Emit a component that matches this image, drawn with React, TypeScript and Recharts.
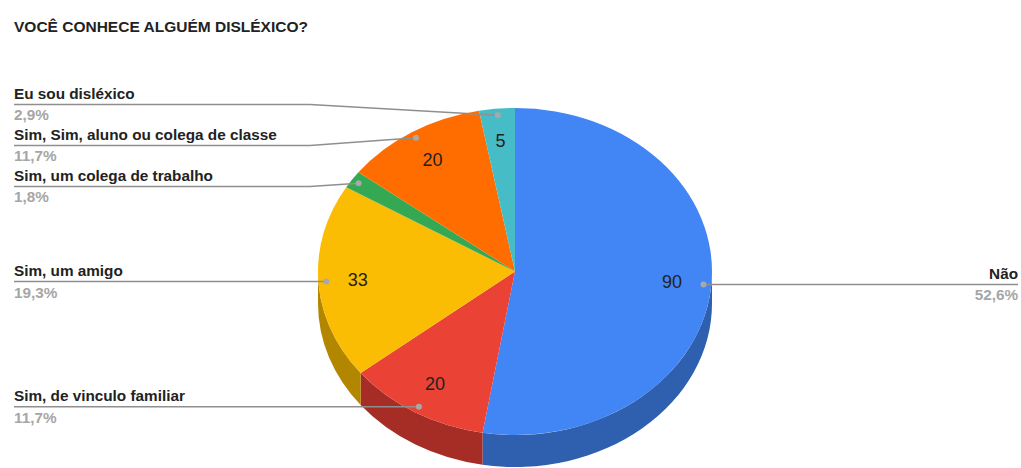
import { Cell, Pie, PieChart } from "recharts"

const categories = [
	"Não",
	"Sim, de vinculo familiar",
	"Sim, um amigo",
	"Sim, um colega de trabalho",
	"Sim, Sim, aluno ou colega de classe",
	"Eu sou disléxico",
]
const answers = [90, 20, 33, 3, 20, 5]

const COLORS = ["#4285f4", "#ea4335", "#fbbc04", "#34a853", "#ff6d01", "#46bdc6"]
const SIDE_COLORS = ["#2f5faf", "#a52d25", "#b38600", "#247a3b", "#b54d00", "#318a91"]

const W = 1021
const H = 468
const CX = 515
const CY = 271.5
const RX = 197
const RY = 163.5
const DEPTH = 32
const TILT = RY / RX
const FONT = "'Liberation Sans', Arial, sans-serif"

const RAD = Math.PI / 180
// point on the tilted pie for a recharts angle (deg, ccw from 3 o'clock)
const pt = (cx: number, cy: number, r: number, a: number) => ({
	x: cx + r * Math.cos(a * RAD),
	y: cy - r * TILT * Math.sin(a * RAD),
})

const total = answers.reduce((s, v) => s + v, 0)

// mid angles, same as recharts computes (start 90, clockwise)
const mids: number[] = []
let acc = 0
answers.forEach((v) => {
	mids.push(90 - ((acc + v / 2) / total) * 360)
	acc += v
})

// spread the leader lines of one side so the label blocks don't overlap
function spread(idx: number[], gap: number) {
	const ys = idx.map((i) => pt(CX, CY, RX * 0.96, mids[i]).y)
	const order = idx.map((_, k) => k).sort((a, b) => ys[a] - ys[b])
	const out = order.map((k) => ys[k])
	for (let it = 0; it < 60; it++) {
		for (let j = 1; j < out.length; j++) {
			const d = out[j] - out[j - 1]
			if (d < gap) {
				const m = (gap - d) / 2
				out[j - 1] -= m
				out[j] += m
			}
		}
	}
	const res: Record<number, number> = {}
	order.forEach((k, j) => (res[idx[k]] = out[j]))
	return res
}

const leftIdx = mids.map((m, i) => i).filter((i) => Math.cos(mids[i] * RAD) < 0)
const rightIdx = mids.map((m, i) => i).filter((i) => Math.cos(mids[i] * RAD) >= 0)
const lineY: Record<number, number> = { ...spread(leftIdx, 41), ...spread(rightIdx, 41) }

const pieData = categories.map((name, i) => ({ name, value: answers[i] }))

// the pie sectors themselves are hidden, the tilted shapes are drawn from the label callback
function TopSlice(props: any) {
	const { cx, cy, outerRadius, startAngle, endAngle, index } = props
	const p0 = pt(cx, cy, outerRadius, startAngle)
	const p1 = pt(cx, cy, outerRadius, endAngle)
	const large = Math.abs(startAngle - endAngle) > 180 ? 1 : 0
	const d = `M${cx},${cy} L${p0.x},${p0.y} A${outerRadius},${outerRadius * TILT} 0 ${large} 1 ${p1.x},${p1.y} Z`
	return <path d={d} fill={COLORS[index]} stroke="none" />
}

function SideSlice(props: any) {
	const { cx, cy, outerRadius, startAngle, endAngle, index } = props
	// only the front half (-180..0) of the rim is visible
	const hi = Math.min(startAngle, 0)
	const lo = Math.max(endAngle, -180)
	if (lo >= hi) return <g />
	const a = pt(cx, cy, outerRadius, hi)
	const b = pt(cx, cy, outerRadius, lo)
	const ry = outerRadius * TILT
	const d = `M${a.x},${a.y} A${outerRadius},${ry} 0 0 1 ${b.x},${b.y} L${b.x},${b.y + DEPTH} A${outerRadius},${ry} 0 0 0 ${a.x},${a.y + DEPTH} Z`
	return <path d={d} fill={SIDE_COLORS[index]} stroke="none" />
}

function SliceLabel(props: any) {
	const { cx, cy, outerRadius, midAngle, percent, value, index } = props
	const dot = pt(cx, cy, outerRadius * 0.96, midAngle)
	const num = pt(cx, cy, outerRadius * 0.8, midAngle)
	const right = Math.cos(midAngle * RAD) >= 0
	const ly = lineY[index]
	const edge = right ? W - 3 : 14
	const elbow = right ? 730 : 310
	const pts = right
		? `${dot.x},${dot.y} ${elbow},${ly} ${edge},${ly}`
		: `${edge},${ly} ${elbow},${ly} ${dot.x},${dot.y}`
	const pct = (percent * 100).toFixed(1).replace(".", ",") + "%"
	return (
		<g fontFamily={FONT}>
			{percent >= 0.02 && (
				<text x={num.x} y={num.y} textAnchor="middle" dominantBaseline="central" fontSize={18} fill="#222">
					{value}
				</text>
			)}
			<polyline points={pts} fill="none" stroke="#8f8f8f" strokeWidth={1.5} />
			<circle cx={dot.x} cy={dot.y} r={3} fill="#a8a8a8" />
			<text x={edge} y={ly - 5.5} textAnchor={right ? "end" : "start"} fontSize={15.3} fontWeight="bold" fill="#222">
				{categories[index]}
			</text>
			<text x={edge} y={ly + 16} textAnchor={right ? "end" : "start"} fontSize={15.3} fontWeight="bold" fill="#a6a6a6">
				{pct}
			</text>
		</g>
	)
}

const pieCommon = {
	data: pieData,
	dataKey: "value",
	nameKey: "name",
	cx: CX,
	cy: CY,
	outerRadius: RX,
	startAngle: 90,
	endAngle: -270,
	stroke: "none",
	labelLine: false,
	isAnimationActive: false,
}

export default function App() {
	return (
		<div style={{ position: "absolute", left: 0, top: 0, width: W, height: H, background: "#fff", fontFamily: FONT }}>
			<div
				style={{
					position: "absolute",
					left: 14,
					top: 18.5,
					fontSize: 15.5,
					lineHeight: "16px",
					fontWeight: "bold",
					color: "#222",
					zIndex: 1,
				}}
			>
				VOCÊ CONHECE ALGUÉM DISLÉXICO?
			</div>
			<PieChart width={W} height={H} margin={{ top: 0, right: 0, bottom: 0, left: 0 }}>
				<Pie {...pieCommon} label={SideSlice} isAnimationActive={false}>
					{pieData.map((d) => (
						<Cell key={d.name} fill="transparent" />
					))}
				</Pie>
				<Pie {...pieCommon} label={TopSlice} isAnimationActive={false}>
					{pieData.map((d) => (
						<Cell key={d.name} fill="transparent" />
					))}
				</Pie>
				<Pie {...pieCommon} label={SliceLabel} isAnimationActive={false}>
					{pieData.map((d) => (
						<Cell key={d.name} fill="transparent" />
					))}
				</Pie>
			</PieChart>
		</div>
	)
}
